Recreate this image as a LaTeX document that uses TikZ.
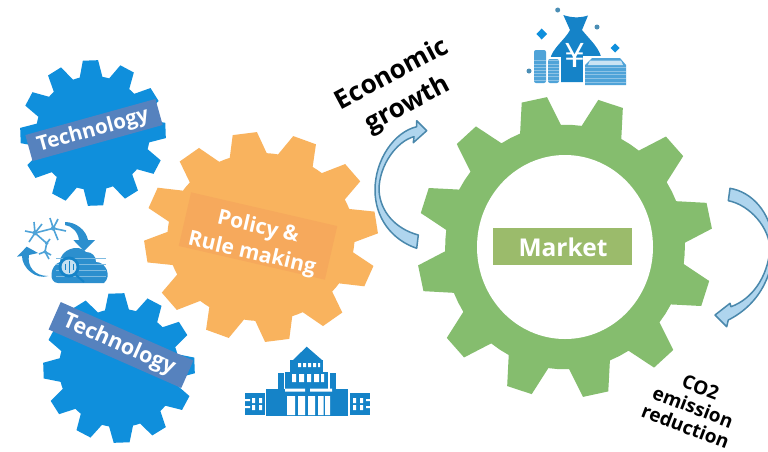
\documentclass[tikz,border=0pt]{standalone}
\usepackage{fontspec}
\setmainfont{Open Sans}
\newfontfamily\yenfont{DejaVu Sans}
\definecolor{gblue}{HTML}{0F8FDC}
\definecolor{barblue}{HTML}{5682BE}
\definecolor{gorange}{HTML}{F9B35E}
\definecolor{barorange}{HTML}{F6A95C}
\definecolor{ggreen}{HTML}{85BD6E}
\definecolor{bargreen}{HTML}{9BBB6B}
\definecolor{arrfill}{HTML}{AFD5EE}
\definecolor{arrline}{HTML}{4A88AC}
\definecolor{iconblue}{HTML}{1583C8}
\definecolor{iconlight}{HTML}{4FA3D8}
% cx cy rx ry rootfrac phase tiphalf basehalf colour
\newcommand{\gearshape}[9]{%
  \fill[#9] ({#1+#3*#5*cos(#6-#8)},{#2-#4*#5*sin(#6-#8)})
  \foreach \k [evaluate=\k as \a using #6+30*\k] in {0,...,11}{
    -- ({#1+#3*cos(\a-#7)},{#2-#4*sin(\a-#7)})
    -- ({#1+#3*cos(\a+#7)},{#2-#4*sin(\a+#7)})
    -- ({#1+#3*#5*cos(\a+#8)},{#2-#4*#5*sin(\a+#8)})
    -- ({#1+#3*#5*cos(\a+15)},{#2-#4*#5*sin(\a+15)})
    -- ({#1+#3*#5*cos(\a+30-#8)},{#2-#4*#5*sin(\a+30-#8)})
  } -- cycle;}
\tikzset{
  geartext/.style={text=white,font=\bfseries,align=center,inner sep=0pt},
  blacktext/.style={text=black,font=\bfseries,align=center,inner sep=0pt},
  turnarrow/.style={fill=arrfill,draw=arrline,line width=1.5pt,line join=round},
}
\begin{document}
\begin{tikzpicture}[x=1pt,y=-1pt]
\useasboundingbox (0,0) rectangle (768,451);
\clip (0,0) rectangle (768,451);
\fill[white] (0,0) rectangle (768,451);
% gears
\gearshape{93}{133}{73}{73}{0.78}{92}{6}{11.5}{gblue}
\gearshape{119}{368}{76}{75}{0.79}{92}{6}{11.5}{gblue}
\gearshape{261}{237}{117}{105}{0.80}{98}{6}{11.5}{gorange}
\gearshape{565}{247}{148}{151}{0.81}{102}{5}{10}{ggreen}
\fill[white] (565,247) ellipse [x radius=88,y radius=92];
% bars and labels
\node[fill=barblue,minimum width=135pt,minimum height=27pt,rotate=15.5,inner sep=0pt] (bar1) at (94,130) {};
\node[geartext,rotate=15.5,font=\bfseries\fontsize{20.5}{22}\selectfont] (tech1) at (93,131) {Technology};
\node[fill=barblue,minimum width=145pt,minimum height=30pt,rotate=-23.8,inner sep=0pt] (bar2) at (121,345) {};
\node[geartext,rotate=-23.8,font=\bfseries\fontsize{21.5}{23}\selectfont] (tech2) at (119,345) {Technology};
\node[fill=barorange,minimum width=150pt,minimum height=55pt,rotate=-13,inner sep=0pt] (bar3) at (258,236) {};
\node[geartext,rotate=-13,font=\bfseries\fontsize{21}{27}\selectfont] (policy) at (255,241) {Policy \&\\Rule making};
\node[fill=bargreen,minimum width=139pt,minimum height=37pt,inner sep=0pt] (bar4) at (562.5,246.5) {};
\node[geartext,font=\bfseries\fontsize{24.5}{26}\selectfont] (market) at (563,247) {Market};
% outer labels
\node[blacktext,rotate=28,font=\bfseries\fontsize{26}{34}\selectfont] (econ) at (400,90) {Economic\\growth};
\node[blacktext,rotate=-21,font=\bfseries\fontsize{19}{21}\selectfont] (co2) at (693,407) {CO2\\emission\\reduction};
% turning arrows
\path[turnarrow] (416.7,248.3) .. controls (392,240) and (375,218) .. (375,190)
  .. controls (375,160) and (394,132) .. (416.7,126.7) -- (416.7,120.7) -- (426.7,130.7) -- (413.3,142.7) -- (414,136.7)
  .. controls (397,141) and (379,165) .. (379,190)
  .. controls (380,212) and (396,229) .. (418.3,235) -- cycle;
\path[turnarrow] (730,188.3) .. controls (752,192) and (770,212) .. (773,240)
  .. controls (775,270) and (762,303) .. (728.3,320) -- (726.7,326.7) -- (715,315) -- (730,303.3) -- (731,306.7)
  .. controls (752,299) and (767,278) .. (770,250)
  .. controls (770,228) and (750,205) .. (728.3,200.7) -- cycle;
% money icon
\fill[iconblue] (563.3,15) .. controls (572,18) and (580,18) .. (588,15.5) -- (582,30)
  .. controls (590,40) and (602,50) .. (601.7,62) .. controls (601,75) and (595,82) .. (590,82)
  -- (560,82) .. controls (553,80) and (549,70) .. (550,60) .. controls (552,48) and (565,40) .. (570,30) -- cycle;
\node[text=white,inner sep=0pt,font=\yenfont\fontsize{33}{33}\selectfont] (yen) at (575,55) {¥};
\fill[white] (546.5,57) rectangle (561,85);
\foreach \xa/\xb/\ya/\yb in {534/546/50/83,548/559/59/83}{
  \fill[iconlight,rounded corners=2pt] (\xa,\ya) rectangle (\xb,\yb);
  \foreach \yy in {0,...,6}{\fill[white!35!iconlight] (\xa,{\yb-3.5-\yy*3.2}) rectangle (\xb,{\yb-3-\yy*3.2});}
}
\fill[white] (583,56) rectangle (628,87);
\fill[iconlight] (585,85) -- (626,85) -- (626,65) -- (620,58) -- (592,58) -- (585,65) -- cycle;
\foreach \yy in {0,...,4}{\fill[white!35!iconlight] (585,{82-\yy*3.8}) rectangle (626,{83-\yy*3.8});}
\fill[white!70!iconlight] (590,60.5) -- (621,60.5) -- (623,65) -- (588,65) -- cycle;
\fill[gblue] (541.7,28.5) -- (547,34) -- (541.7,39.5) -- (536.4,34) -- cycle;
\fill[gblue] (615,43.5) -- (619.5,48) -- (615,52.5) -- (610.5,48) -- cycle;
\fill[arrline!80!iconlight] (557.7,10) circle (2.5) (597,27) circle (2.5) (529,71) circle (2.5);
% network and cloud icon
\begin{scope}[draw=iconlight,line width=1.6pt]
\draw (35,233) -- (53.3,228.3) (35,233) -- (46.7,243.3) -- (45,251.7);
\draw (35,233) -- (34,222) (35,233) -- (25,231) (35,233) -- (29,242) (35,233) -- (42,224);
\draw (53.3,228.3) -- (50,218) (53.3,228.3) -- (58,219) (53.3,228.3) -- (66,231) (53.3,228.3) -- (58,240);
\draw (46.7,243.3) -- (50,239) (45,251.7) -- (39,254) (45,251.7) -- (51,255) (45,251.7) -- (49,259);
\end{scope}
\fill[iconlight] (35,233) circle (2.4) (53.3,228.3) circle (2.4) (46.7,243.3) circle (1.8) (45,251.7) circle (1.8);
\fill[iconblue!90!white] (65,222) .. controls (76,222) and (86,230) .. (88,240) -- (95,240) -- (84,251) -- (73.3,240) -- (79,240)
  .. controls (78,232) and (72,226) .. (65,225) -- cycle;
\fill[iconblue!90!white] (48.3,276) .. controls (34,276) and (27,266) .. (29,255) -- (38,253) -- (26.7,246.7) -- (17,256.7) -- (22,256)
  .. controls (22,268) and (36,280) .. (48.3,276) -- cycle;
\fill[iconblue!90!white] (58,283) .. controls (48,283) and (50,265) .. (60,262)
  .. controls (60,250) and (78,243) .. (86,252) .. controls (92,252) and (96,256) .. (96,262)
  .. controls (106,262) and (112,276) .. (104,283) -- cycle;
\foreach \yy in {258,264,270,276}{\fill[white!45!iconblue] (56,\yy) rectangle (106,{\yy+1.2});}
\fill[iconblue] (69,267) circle (10.5);
\fill[white!75!iconblue] (69,267) circle (7.5);
\draw[iconblue,line width=1pt] (69,261) -- (69,273) (65,264) -- (65,270) (73,264) -- (73,270);
\draw[iconblue,line width=2pt] (76,275) -- (84,282);
% building icon
\fill[iconblue] (266,416) rectangle (348,389);
\fill[iconblue] (245,393) rectangle (265,415);
\fill[iconblue] (350,393) rectangle (370,415);
\fill[iconblue] (285,389) rectangle (328,372);
\fill[iconblue] (278,389) rectangle (284,373);
\fill[iconblue] (330,389) rectangle (336,373);
\fill[iconblue] (290,372) rectangle (323,360);
\fill[iconblue] (293,360) -- (306.7,346.7) -- (322,360) -- cycle;
\fill[white] (287,396) rectangle (295,415) (298,396) rectangle (305,415) (308,396) rectangle (315,415) (318,396) rectangle (323.5,415) (325,396) rectangle (330,415);
\fill[white] (285,388.5) rectangle (305,391.5) (310,388.5) rectangle (332,391.5);
\fill[white] (292,374) rectangle (296,382) (299,374) rectangle (304,382) (307,374) rectangle (311,382) (314,374) rectangle (319,382) (321,374) rectangle (324,382);
\fill[white] (298,363) rectangle (301,367) (303,363) rectangle (306,367) (308,363) rectangle (311,367) (313,363) rectangle (316,367) (318,363) rectangle (320,367);
\fill[white] (245,399) rectangle (250,401) (245,406) rectangle (250,408) (252,398) rectangle (255,403) (252,405) rectangle (255,410) (259,398) rectangle (262,403) (259,405) rectangle (262,410);
\fill[white] (353,398) rectangle (356,403) (353,405) rectangle (356,410) (360,398) rectangle (363,403) (360,405) rectangle (363,410) (366,399) rectangle (370,401) (366,406) rectangle (370,408);
\end{tikzpicture}
\end{document}
